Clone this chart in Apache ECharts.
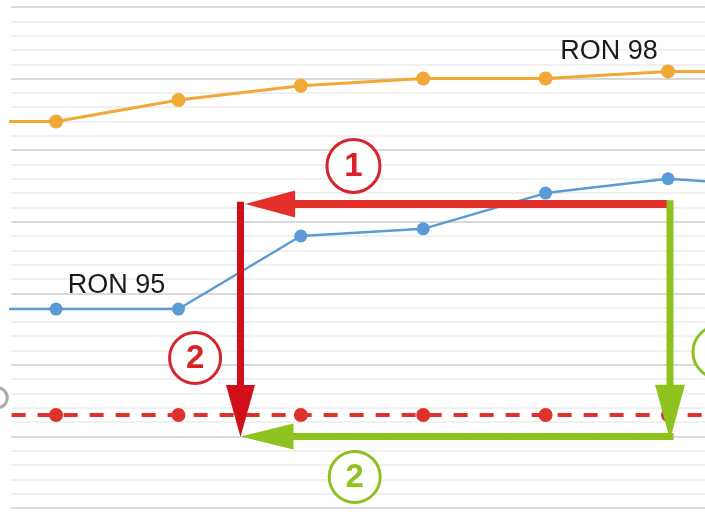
<!DOCTYPE html>
<html>
<head>
<meta charset="utf-8">
<script src="https://cdn.jsdelivr.net/npm/echarts@6/dist/echarts.min.js"></script>
<style>
  html, body { margin: 0; padding: 0; background: #ffffff; }
  #chart { width: 705px; height: 514px; }
</style>
</head>
<body>
<div id="chart"></div>
<script>
// Period positions along the x axis; -1 and 6 continue past the visible window
const periods = [-1, 0, 1, 2, 3, 4, 5, 6];
// Pump prices per period
const ron98 = [2.70, 2.70, 2.85, 2.95, 3.00, 3.00, 3.05, 3.05];
const ron95 = [1.39, 1.39, 1.39, 1.90, 1.95, 2.20, 2.30, 2.24];
const cappedPrice = [0.65, 0.65, 0.65, 0.65, 0.65, 0.65, 0.65, 0.65];
// Series captions and the period each caption sits beside
const seriesNames = ['RON 98', 'RON 95'];
const captionPeriods = [5, 1];
// Numbered steps shown in the circled markers
const stepLabels = ['1', '2', '2', '1'];

const FONT = '"Liberation Sans", Arial, sans-serif';
const RED = '#e3302a';
const DARK_RED = '#d10f1b';
const GREEN = '#8dc21f';

function pairs(values, captionAt, caption, labelStyle) {
  return periods.map((p, i) => {
    const item = { value: [p, values[i]] };
    if (p === captionAt) {
      item.label = Object.assign({ show: true, formatter: caption }, labelStyle);
    }
    return item;
  });
}

const chart = echarts.init(document.getElementById('chart'), null, { renderer: 'canvas' });

const captionStyle = { color: '#1a1a1a', fontFamily: FONT, fontSize: 27, position: 'top' };

chart.setOption({
  animation: false,
  backgroundColor: '#ffffff',
  grid: { left: 11, right: 0, top: 7, bottom: 6 },
  xAxis: {
    type: 'value',
    min: -0.368,
    max: 5.302,
    show: false,
    splitLine: { show: false }
  },
  yAxis: {
    type: 'value',
    min: 0,
    max: 3.5,
    interval: 0.5,
    axisLine: { show: false },
    axisTick: { show: false },
    axisLabel: { show: false },
    splitLine: { show: true, lineStyle: { color: '#d9d9d9', width: 2 } },
    minorTick: { show: false, splitNumber: 5 },
    minorSplitLine: { show: true, lineStyle: { color: '#ececec', width: 1.5 } }
  },
  series: [
    {
      name: seriesNames[0],
      type: 'line',
      data: pairs(ron98, captionPeriods[0], seriesNames[0],
        Object.assign({}, captionStyle, { distance: 0, offset: [-59, 1] })),
      symbol: 'circle',
      symbolSize: 14,
      lineStyle: { color: '#f2a835', width: 3 },
      itemStyle: { color: '#f2a835' },
      label: { show: false }
    },
    {
      name: seriesNames[1],
      type: 'line',
      data: pairs(ron95, captionPeriods[1], seriesNames[1],
        Object.assign({}, captionStyle, { distance: 3, offset: [-62, 0] })),
      symbol: 'circle',
      symbolSize: 13,
      lineStyle: { color: '#5b9bd5', width: 2.5 },
      itemStyle: { color: '#5b9bd5' },
      label: { show: false }
    },
    {
      name: 'capped',
      type: 'line',
      data: periods.map((p, i) => [p, cappedPrice[i]]),
      symbol: 'circle',
      symbolSize: 14,
      lineStyle: { color: '#e0322d', width: 4, type: [14, 12] },
      itemStyle: { color: '#e0322d' }
    }
  ]
});

// Annotation arrows, given in data units (period, price)
const arrows = [
  { color: RED,      width: 8, from: [5.00, 2.124], to: [1.545, 2.124], head: [50, 27] },
  { color: DARK_RED, width: 7, from: [1.507, 2.14], to: [1.507, 0.496], head: [52, 29] },
  { color: GREEN,    width: 7, from: [5.016, 2.15], to: [5.016, 0.476], head: [55, 30] },
  { color: GREEN,    width: 7, from: [5.045, 0.5],  to: [1.507, 0.5],   head: [53, 26] }
];
// Circled step markers, centred in data units
const markers = [
  { color: '#d8232a', at: [2.43, 2.39],  r: 28 },
  { color: '#d8232a', at: [1.136, 1.048], r: 27 },
  { color: GREEN,     at: [2.44, 0.217], r: 27 },
  { color: GREEN,     at: [5.42, 1.09],  r: 28 }
];

function px(pt) {
  return chart.convertToPixel({ gridIndex: 0 }, pt);
}

const elements = [];

arrows.forEach(a => {
  const p0 = px(a.from);
  const p1 = px(a.to);
  const dx = p1[0] - p0[0];
  const dy = p1[1] - p0[1];
  const len = Math.sqrt(dx * dx + dy * dy);
  const ux = dx / len, uy = dy / len;
  const hl = a.head[0], hw = a.head[1] / 2;
  const bx = p1[0] - ux * hl, by = p1[1] - uy * hl;
  elements.push({
    type: 'polyline',
    z: 10,
    shape: { points: [p0, [bx + ux, by + uy]] },
    style: { stroke: a.color, lineWidth: a.width, fill: null }
  });
  elements.push({
    type: 'polygon',
    z: 11,
    shape: { points: [p1, [bx - uy * hw, by + ux * hw], [bx + uy * hw, by - ux * hw]] },
    style: { fill: a.color }
  });
});

markers.forEach((m, i) => {
  const c = px(m.at);
  elements.push({
    type: 'circle',
    z: 12,
    shape: { cx: c[0], cy: c[1], r: m.r - 1.5 },
    style: { fill: '#ffffff', stroke: m.color, lineWidth: 3 }
  });
  elements.push({
    type: 'text',
    z: 13,
    x: c[0],
    y: c[1] + 1,
    style: {
      text: stepLabels[i],
      fill: m.color,
      font: 'bold 33px ' + FONT,
      align: 'center',
      verticalAlign: 'middle'
    }
  });
});

// Faint marker clipped at the left edge
const edge = px([-0.48, 0.77]);
elements.push({
  type: 'circle',
  z: 12,
  shape: { cx: edge[0], cy: edge[1], r: 10 },
  style: { fill: '#ffffff', stroke: '#a9a9a9', lineWidth: 3 }
});

chart.setOption({ graphic: { elements: elements } });
</script>
</body>
</html>
